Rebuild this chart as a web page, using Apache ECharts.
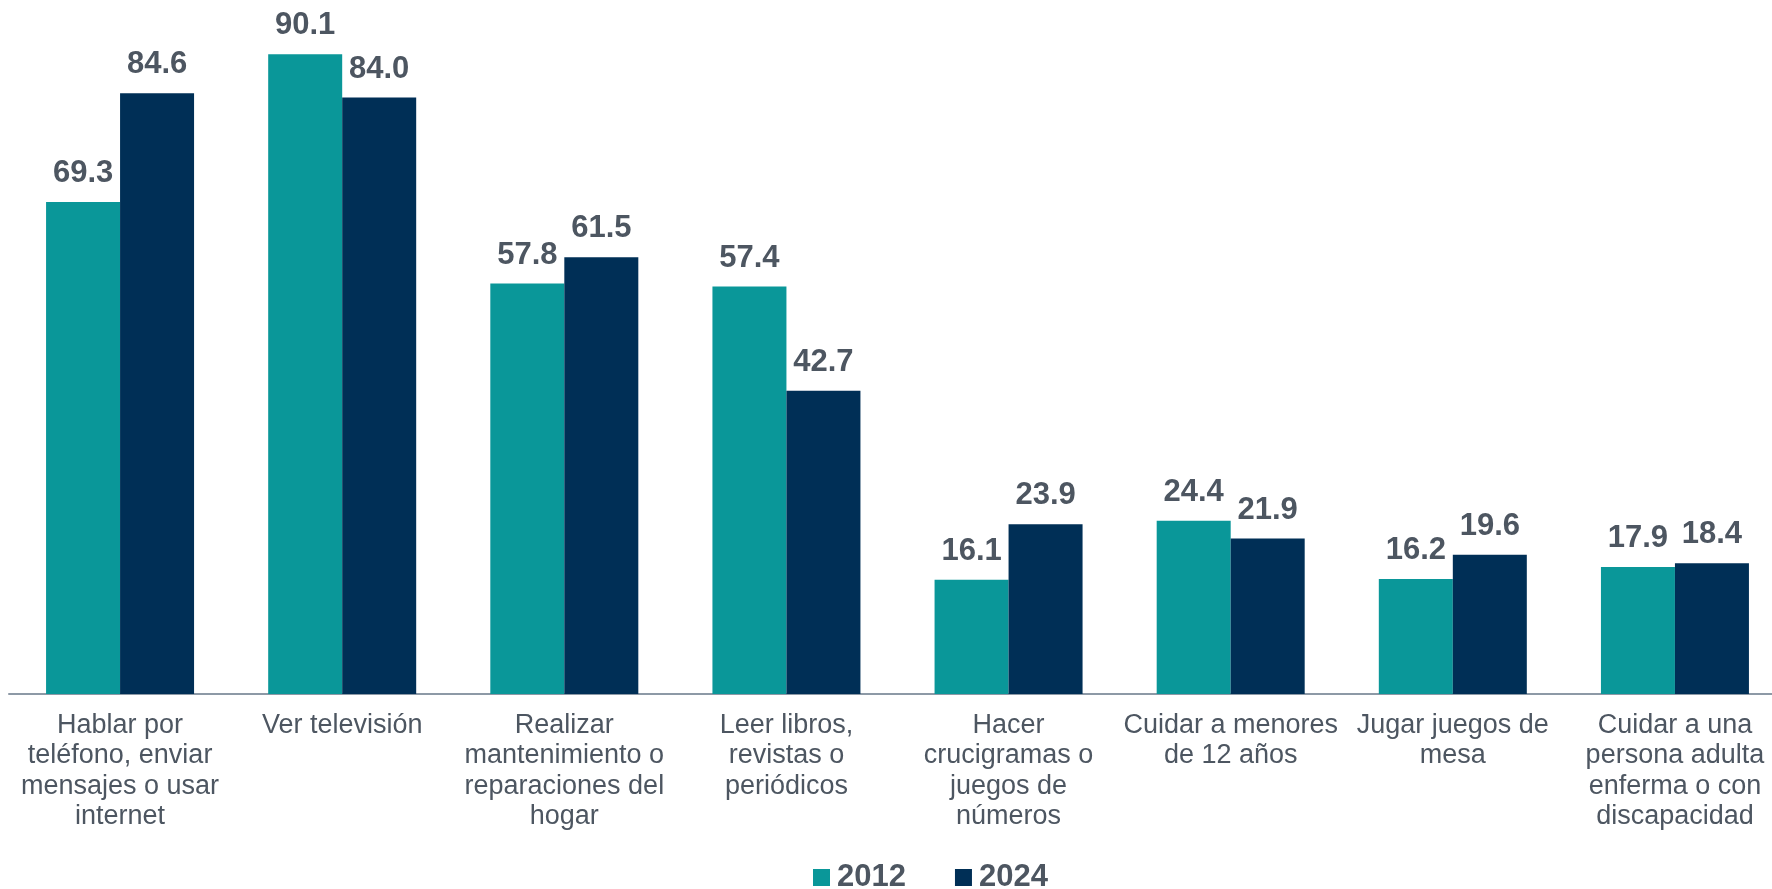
<!DOCTYPE html>
<html>
<head>
<meta charset="utf-8">
<script src="https://cdn.jsdelivr.net/npm/echarts@6/dist/echarts.min.js"></script>
<style>
  html, body { margin: 0; padding: 0; background: #fff; overflow: hidden; }
  /* un poco mas ancho que la ventana: el eje sigue mas alla del borde derecho */
  #chart { width: 1800px; height: 889px; }
</style>
</head>
<body>
<div id="chart"></div>
<script>
// categorias (con saltos de linea como en el original)
const categories = [
  "Hablar por\nteléfono, enviar\nmensajes o usar\ninternet",
  "Ver televisión",
  "Realizar\nmantenimiento o\nreparaciones del\nhogar",
  "Leer libros,\nrevistas o\nperiódicos",
  "Hacer\ncrucigramas o\njuegos de\nnúmeros",
  "Cuidar a menores\nde 12 años",
  "Jugar juegos de\nmesa",
  "Cuidar a una\npersona adulta\nenferma o con\ndiscapacidad"
];
const years = ["2012", "2024"];
const values2012 = [69.3, 90.1, 57.8, 57.4, 16.1, 24.4, 16.2, 17.9];
const values2024 = [84.6, 84.0, 61.5, 42.7, 23.9, 21.9, 19.6, 18.4];

const font = "Liberation Sans, Arial, sans-serif";
const textColor = "#4d5661";

const chart = echarts.init(document.getElementById("chart"));

// etiqueta de valor encima de cada barra
const valueLabel = {
  show: true,
  position: "top",
  distance: 13,
  fontFamily: font,
  fontSize: 31,
  fontWeight: "bold",
  color: textColor,
  formatter: (p) => p.value.toFixed(1),
};

const option = {
  animation: false,
  grid: {
    left: 9,
    width: 1777,
    top: 19.5,
    bottom: 195,
    containLabel: false,
  },
  legend: {
    data: years,
    top: 862,
    left: 813,
    padding: 0,
    itemWidth: 17,
    itemHeight: 17,
    itemGap: 49,
    icon: "rect",
    textStyle: {
      fontFamily: font,
      fontSize: 31,
      fontWeight: "bold",
      color: textColor,
      padding: [0, 0, 0, 2],
    },
  },
  xAxis: {
    type: "category",
    data: categories,
    axisLine: { lineStyle: { color: "#8d99a6", width: 2 } },
    axisTick: { show: false },
    axisLabel: {
      interval: 0,
      margin: 16,
      fontFamily: font,
      fontSize: 27,
      lineHeight: 30.5,
      color: textColor,
      align: "center",
      verticalAlign: "top",
    },
  },
  yAxis: {
    type: "value",
    min: 0,
    max: 95,
    show: false,
    splitLine: { show: false },
  },
  series: [
    {
      name: years[0],
      type: "bar",
      data: values2012,
      barWidth: 74,
      barGap: "0%",
      itemStyle: { color: "#0a9799" },
      label: valueLabel,
    },
    {
      name: years[1],
      type: "bar",
      data: values2024,
      barWidth: 74,
      barGap: "0%",
      itemStyle: { color: "#002f56" },
      label: valueLabel,
    },
  ],
};

chart.setOption(option);
</script>
</body>
</html>
